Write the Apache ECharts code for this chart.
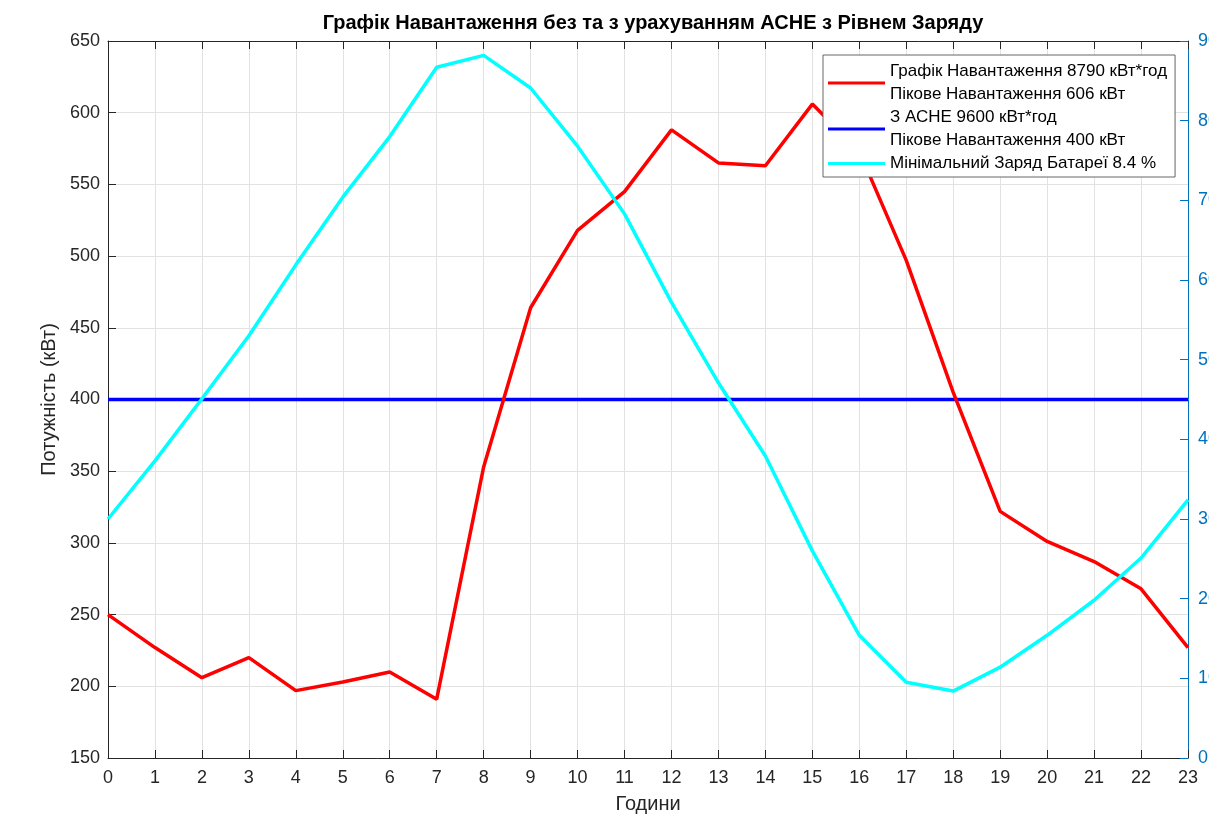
<!DOCTYPE html>
<html>
<head>
<meta charset="utf-8">
<script src="https://cdn.jsdelivr.net/npm/echarts@6/dist/echarts.min.js"></script>
<style>html,body{margin:0;padding:0;background:#fff;}#c{width:1209px;height:820px;}</style>
</head>
<body>
<div id="c"></div>
<script>
const hours = ['0','1','2','3','4','5','6','7','8','9','10','11','12','13','14','15','16','17','18','19','20','21','22','23'];
const loadNoStorage = [250,227,206,220,197,203,210,191,353,464,518,545,588,565,563,606,573,497,405,322,301,287,268,227];
const loadWithStorage = [400,400,400,400,400,400,400,400,400,400,400,400,400,400,400,400,400,400,400,400,400,400,400,400];
const batteryCharge = [30.0,37.3,45.1,53.0,61.9,70.4,78.0,86.7,88.2,84.1,76.8,68.3,57.2,47.1,37.9,26.0,15.4,9.5,8.4,11.4,15.4,19.8,25.1,32.4];
const seriesNames = [
  'Графік Навантаження 8790 кВт*год\nПікове Навантаження 606 кВт',
  'З АСНЕ 9600 кВт*год\nПікове Навантаження 400 кВт',
  'Мінімальний Заряд Батареї 8.4 %'
];
const FONT = 'Liberation Sans, Arial, sans-serif';
const chart = echarts.init(document.getElementById('c'), null, {renderer:'canvas'});
const axisCol = '#262626';
chart.setOption({
  animation:false,
  backgroundColor:'#fff',
  title:{
    text:'Графік Навантаження без та з урахуванням АСНЕ з Рівнем Заряду',
    left:648, top:8, textAlign:'center',
    textStyle:{fontFamily:FONT,fontSize:20,fontWeight:'bold',color:'#000'}
  },
  grid:{left:108,right:21,top:41,bottom:62,containLabel:false,outerBoundsMode:'none'},
  legend:{
    orient:'vertical', left:823, top:55,
    backgroundColor:'#fff', borderColor:'#666', borderWidth:1,
    padding:[5,8,2,5], itemGap:0, itemWidth:57, itemHeight:3,
    icon:'rect',
    textStyle:{fontFamily:FONT,fontSize:17,color:'#000',lineHeight:23},
    data:seriesNames
  },
  xAxis:[{
    type:'category', data:hours, boundaryGap:false,
    name:'Години', nameLocation:'middle', nameGap:36,
    nameTextStyle:{fontFamily:FONT,fontSize:20,color:'#262626'},
    axisLine:{show:true,lineStyle:{color:axisCol,width:1}},
    axisTick:{show:true,inside:true,length:8,alignWithLabel:true,lineStyle:{color:axisCol}},
    axisLabel:{fontFamily:FONT,fontSize:18,color:'#262626',margin:11},
    splitLine:{show:true,lineStyle:{color:'#e2e2e2',width:1}}
  },{
    type:'category', data:hours, boundaryGap:false, position:'top',
    axisLine:{show:true,lineStyle:{color:axisCol,width:1}},
    axisTick:{show:true,inside:true,length:8,lineStyle:{color:axisCol}},
    axisLabel:{show:false}, splitLine:{show:false}
  }],
  yAxis:[{
    type:'value', min:150, max:650, interval:50, position:'left',
    name:'Потужність (кВт)', nameLocation:'middle', nameGap:43, nameRotate:90,
    nameTextStyle:{fontFamily:FONT,fontSize:20,color:'#262626'},
    axisLine:{show:true,lineStyle:{color:axisCol,width:1}},
    axisTick:{show:true,inside:true,length:8,lineStyle:{color:axisCol}},
    axisLabel:{fontFamily:FONT,fontSize:18,color:'#262626',margin:8},
    splitLine:{show:true,lineStyle:{color:'#e2e2e2',width:1}}
  },{
    type:'value', min:0, max:90, interval:10, position:'right',
    axisLine:{show:true,lineStyle:{color:'#0072BD',width:1}},
    axisTick:{show:true,inside:true,length:8,lineStyle:{color:'#0072BD'}},
    axisLabel:{fontFamily:FONT,fontSize:18,color:'#0072BD',margin:10},
    splitLine:{show:false}
  }],
  series:[{
    name:seriesNames[0], type:'line', data:loadNoStorage, yAxisIndex:0,
    symbol:'none', lineStyle:{color:'#ff0000',width:3.5}, itemStyle:{color:'#ff0000'}, z:3
  },{
    name:seriesNames[1], type:'line', data:loadWithStorage, yAxisIndex:0,
    symbol:'none', lineStyle:{color:'#0000ff',width:3.5}, itemStyle:{color:'#0000ff'}, z:2
  },{
    name:seriesNames[2], type:'line', data:batteryCharge, yAxisIndex:1,
    symbol:'none', lineStyle:{color:'#00ffff',width:3.5}, itemStyle:{color:'#00ffff'}, z:4
  }]
});
</script>
</body>
</html>
